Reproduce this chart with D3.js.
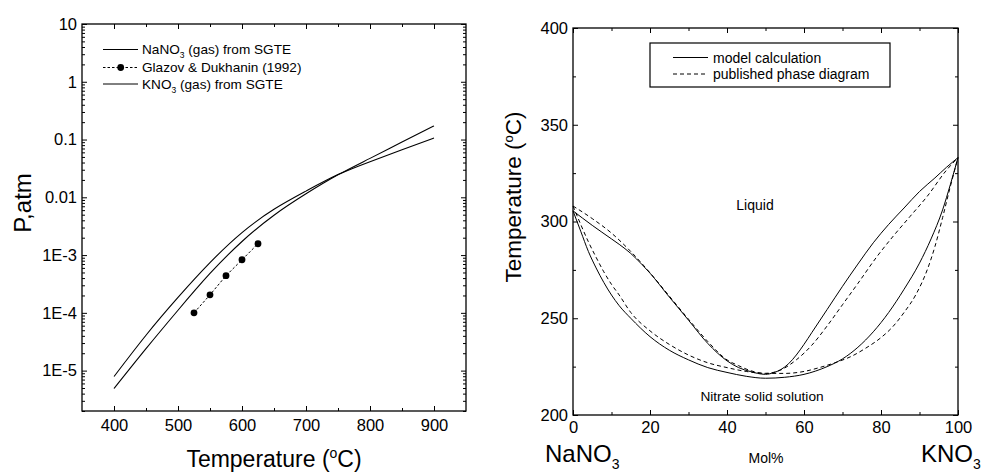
<!DOCTYPE html>
<html><head><meta charset="utf-8">
<script src="https://cdn.jsdelivr.net/npm/d3@7"></script>
<style>
body{margin:0;background:#fff;}
text{font-family:"Liberation Sans",Arial,sans-serif;fill:#000;}
</style></head>
<body><svg id="c" width="984" height="475"></svg>
<script>
// ---------- Left chart data: vapour pressure ----------
const vpTemps = [400,450,500,550,600,650,700,750,800,850,900];
const nano3P  = [7.9e-6,4.1e-5,1.85e-4,7.4e-4,2.45e-3,6.2e-3,1.28e-2,2.47e-2,4.14e-2,6.65e-2,0.106];
const kno3P   = [4.9e-6,2.4e-5,1.11e-4,4.8e-4,1.72e-3,4.9e-3,1.15e-2,2.45e-2,4.72e-2,9.06e-2,0.172];
const glazovT = [525,550,575,600,625];
const glazovP = [1.0e-4,2.05e-4,4.4e-4,8.3e-4,1.57e-3];
const vpXTicks = [400,500,600,700,800,900];
const vpYTicks = [10,1,0.1,0.01,1e-3,1e-4,1e-5];
const vpYLabels = ["10","1","0.1","0.01","1E-3","1E-4","1E-5"];

// ---------- Right chart data: phase diagram ----------
const liqModelX = [0,5,10,12,15,18,20,25,30,35,40,43,46,50,52,54,56,58,60,62,66,70,74,78,82,86,90,94,97,100];
const liqModelT = [305.5,298,291,288.2,283.5,277.6,273.3,261,249,237,228,224.5,222.5,221,221.8,223.5,226.5,231,236.5,242.5,254.5,266.5,278,289,298.5,307,315.5,322.5,328,333];
const liqPubX = [0,5,10,15,20,25,30,35,40,43,46,50,54,58,62,66,70,74,79,83,87.5,92,97,100];
const liqPubT = [308,301.5,294,284.5,273.5,261.5,249.5,238,228.5,225.5,223,221.5,223.3,228.5,236,246,257,268,282,292,302.5,313,326.5,333];
const solModelX = [0,2,4,6,8,10,12,15,20,25,30,35,40,45,50,55,60,66,70,74,78,82,86,90,93,96,98,100];
const solModelT = [305.5,295,284.5,276,268.5,262,256.5,250,240.5,233.5,228.5,224.5,222,220,219,219.5,221,225,229,235,243,253,265,278.5,291,306,319,333];
const solPubX = [0,2,4,6,8,10,12,15,20,25,30,35,40,45,50,55,60,64,68,72.5,76,80,83,86,89,92,94,96,98,100];
const solPubT = [308,298.5,289.5,281.5,274,267.5,262,253,243.5,236.5,231,227,224.5,222.5,221.5,221.5,222.5,224.5,227,230.5,234.5,240,245.5,253,262,275,287,302,318,333];
const pdXTicks = [0,20,40,60,80,100];
const pdXMinor = [10,30,50,70,90];
const pdYTicks = [200,250,300,350,400];
const pdYMinor = [225,275,325,375];

const svg = d3.select("#c");
const FONT = '"Liberation Sans",Arial,sans-serif';

// ================= LEFT CHART =================
const L = {x0:82,x1:466,y0:24,y1:411};
const xL = d3.scaleLinear().domain([350,950]).range([L.x0,L.x1]);
const yL = d3.scaleLog().domain([2e-6,10]).range([L.y1,L.y0]);
const gL = svg.append("g");

const logMinor = [];
for (let e=-6;e<=0;e++) for (let m=2;m<=9;m++){ const v=m*Math.pow(10,e); if(v>=2e-6&&v<10) logMinor.push(v);}
const xMinorL = [450,550,650,750,850];

function styleAxis(g){ g.select(".domain").remove(); g.selectAll("line").attr("stroke","#000").attr("stroke-width",1); g.selectAll("text").style("font-family",FONT).attr("fill","#000"); }

gL.append("g").attr("transform",`translate(${L.x0},0)`)
  .call(d3.axisLeft(yL).tickValues(vpYTicks).tickFormat((d,i)=>vpYLabels[i]).tickSize(-5).tickPadding(5))
  .call(styleAxis).selectAll("text").style("font-size","16.5px");
gL.append("g").attr("transform",`translate(${L.x0},0)`)
  .call(d3.axisLeft(yL).tickValues(logMinor).tickFormat("").tickSize(-3)).call(styleAxis);
gL.append("g").attr("transform",`translate(${L.x1},0)`)
  .call(d3.axisRight(yL).tickValues(vpYTicks).tickFormat("").tickSize(-5)).call(styleAxis);
gL.append("g").attr("transform",`translate(${L.x1},0)`)
  .call(d3.axisRight(yL).tickValues(logMinor).tickFormat("").tickSize(-3)).call(styleAxis);
gL.append("g").attr("transform",`translate(0,${L.y1})`)
  .call(d3.axisBottom(xL).tickValues(vpXTicks).tickFormat(d3.format("d")).tickSize(-5).tickPadding(8))
  .call(styleAxis).selectAll("text").style("font-size","16.5px");
gL.append("g").attr("transform",`translate(0,${L.y1})`)
  .call(d3.axisBottom(xL).tickValues(xMinorL).tickFormat("").tickSize(-3)).call(styleAxis);
gL.append("g").attr("transform",`translate(0,${L.y0})`)
  .call(d3.axisTop(xL).tickValues(vpXTicks).tickFormat("").tickSize(-5)).call(styleAxis);
gL.append("g").attr("transform",`translate(0,${L.y0})`)
  .call(d3.axisTop(xL).tickValues(xMinorL).tickFormat("").tickSize(-3)).call(styleAxis);
gL.append("rect").attr("x",L.x0).attr("y",L.y0).attr("width",L.x1-L.x0).attr("height",L.y1-L.y0)
  .attr("fill","none").attr("stroke","#000").attr("stroke-width",1.3);

const lineL = d3.line().x(d=>xL(d[0])).y(d=>yL(d[1])).curve(d3.curveNatural);
[nano3P,kno3P].forEach(arr=>{
  gL.append("path").attr("d",lineL(vpTemps.map((t,i)=>[t,arr[i]])))
    .attr("fill","none").attr("stroke","#000").attr("stroke-width",1.1);
});
const gz = glazovT.map((t,i)=>[t,glazovP[i]]);
gL.append("path").attr("d",d3.line().x(d=>xL(d[0])).y(d=>yL(d[1]))(gz))
  .attr("fill","none").attr("stroke","#000").attr("stroke-width",1).attr("stroke-dasharray","2.5,2");
gL.selectAll("circle.gz").data(gz).join("circle").attr("cx",d=>xL(d[0])).attr("cy",d=>yL(d[1])).attr("r",3.4).attr("fill","#000");

// legend left
const legL = [{y:49.5,label:["NaNO","3"," (gas) from SGTE"],type:"solid"},
              {y:67.5,label:["Glazov & Dukhanin (1992)"],type:"dot"},
              {y:84,label:["KNO","3"," (gas) from SGTE"],type:"solid"}];
legL.forEach(l=>{
  const ln = gL.append("line").attr("x1",103).attr("x2",138).attr("y1",l.y).attr("y2",l.y).attr("stroke","#000").attr("stroke-width",1);
  if(l.type==="dot"){ ln.attr("stroke-dasharray","2.5,2"); gL.append("circle").attr("cx",120.7).attr("cy",l.y).attr("r",3.4).attr("fill","#000"); }
  const t = gL.append("text").attr("x",142).attr("y",l.y+4.8).style("font-size","13.6px");
  if(l.label.length===1) t.text(l.label[0]);
  else { t.append("tspan").text(l.label[0]); t.append("tspan").attr("dy",4).style("font-size","8.5px").text(l.label[1]); t.append("tspan").attr("dy",-4).text(l.label[2]); }
});

const tL = gL.append("text").attr("x",(L.x0+L.x1)/2).attr("y",467).attr("text-anchor","middle").style("font-size","23px");
tL.append("tspan").text("Temperature (");
tL.append("tspan").attr("dy",-9).style("font-size","14px").text("o");
tL.append("tspan").attr("dy",9).text("C)");
gL.append("text").attr("transform","translate(30.5,203) rotate(-90)").attr("text-anchor","middle").style("font-size","24px").text("P,atm");

// ================= RIGHT CHART =================
const R = {x0:573,x1:958,y0:28,y1:415};
const xR = d3.scaleLinear().domain([0,100]).range([R.x0,R.x1]);
const yR = d3.scaleLinear().domain([200,400]).range([R.y1,R.y0]);
const gR = svg.append("g");

gR.append("g").attr("transform",`translate(${R.x0},0)`)
  .call(d3.axisLeft(yR).tickValues(pdYTicks).tickFormat(d3.format("d")).tickSize(-5).tickPadding(5))
  .call(styleAxis).selectAll("text").style("font-size","16.5px");
gR.append("g").attr("transform",`translate(${R.x0},0)`)
  .call(d3.axisLeft(yR).tickValues(pdYMinor).tickFormat("").tickSize(-3)).call(styleAxis);
gR.append("g").attr("transform",`translate(${R.x1},0)`)
  .call(d3.axisRight(yR).tickValues(pdYTicks).tickFormat("").tickSize(-5)).call(styleAxis);
gR.append("g").attr("transform",`translate(${R.x1},0)`)
  .call(d3.axisRight(yR).tickValues(pdYMinor).tickFormat("").tickSize(-3)).call(styleAxis);
gR.append("g").attr("transform",`translate(0,${R.y1})`)
  .call(d3.axisBottom(xR).tickValues(pdXTicks).tickFormat(d3.format("d")).tickSize(-5).tickPadding(6))
  .call(styleAxis).selectAll("text").style("font-size","16.5px");
gR.append("g").attr("transform",`translate(0,${R.y1})`)
  .call(d3.axisBottom(xR).tickValues(pdXMinor).tickFormat("").tickSize(-3)).call(styleAxis);
gR.append("g").attr("transform",`translate(0,${R.y0})`)
  .call(d3.axisTop(xR).tickValues(pdXTicks).tickFormat("").tickSize(-5)).call(styleAxis);
gR.append("g").attr("transform",`translate(0,${R.y0})`)
  .call(d3.axisTop(xR).tickValues(pdXMinor).tickFormat("").tickSize(-3)).call(styleAxis);
gR.append("rect").attr("x",R.x0).attr("y",R.y0).attr("width",R.x1-R.x0).attr("height",R.y1-R.y0)
  .attr("fill","none").attr("stroke","#000").attr("stroke-width",1.3);

const lineR = d3.line().x(d=>xR(d[0])).y(d=>yR(d[1])).curve(d3.curveMonotoneX);
const curves = [[liqModelX,liqModelT,false],[solModelX,solModelT,false],[liqPubX,liqPubT,true],[solPubX,solPubT,true]];
curves.forEach(([xs,ts,dash])=>{
  const p = gR.append("path").attr("d",lineR(xs.map((x,i)=>[x,ts[i]])))
    .attr("fill","none").attr("stroke","#000").attr("stroke-width",1);
  if(dash) p.attr("stroke-dasharray","4,3");
});

// legend right
gR.append("rect").attr("x",650).attr("y",43).attr("width",240).attr("height",44).attr("fill","#fff").attr("stroke","#000").attr("stroke-width",1.2);
gR.append("line").attr("x1",673).attr("x2",708).attr("y1",57.5).attr("y2",57.5).attr("stroke","#000");
gR.append("line").attr("x1",673).attr("x2",708).attr("y1",74).attr("y2",74).attr("stroke","#000").attr("stroke-dasharray","4,3");
gR.append("text").attr("x",713).attr("y",62.5).style("font-size","14px").text("model calculation");
gR.append("text").attr("x",713).attr("y",79).style("font-size","14px").text("published phase diagram");

gR.append("text").attr("x",755).attr("y",210).attr("text-anchor","middle").style("font-size","14px").text("Liquid");
gR.append("text").attr("x",762).attr("y",400.5).attr("text-anchor","middle").style("font-size","13.7px").text("Nitrate solid solution");

const na = gR.append("text").attr("x",545).attr("y",462).style("font-size","24px");
na.append("tspan").text("NaNO"); na.append("tspan").attr("dy",7).style("font-size","14px").text("3");
const kn = gR.append("text").attr("x",921).attr("y",462).style("font-size","24px");
kn.append("tspan").text("KNO"); kn.append("tspan").attr("dy",7).style("font-size","14px").text("3");
gR.append("text").attr("x",766).attr("y",463).attr("text-anchor","middle").style("font-size","14px").text("Mol%");

const tR = gR.append("text").attr("transform","translate(521,197) rotate(-90)").attr("text-anchor","middle").style("font-size","22.5px");
tR.append("tspan").text("Temperature (");
tR.append("tspan").attr("dy",-8).style("font-size","13px").text("o");
tR.append("tspan").attr("dy",8).text("C)");
</script></body></html>
